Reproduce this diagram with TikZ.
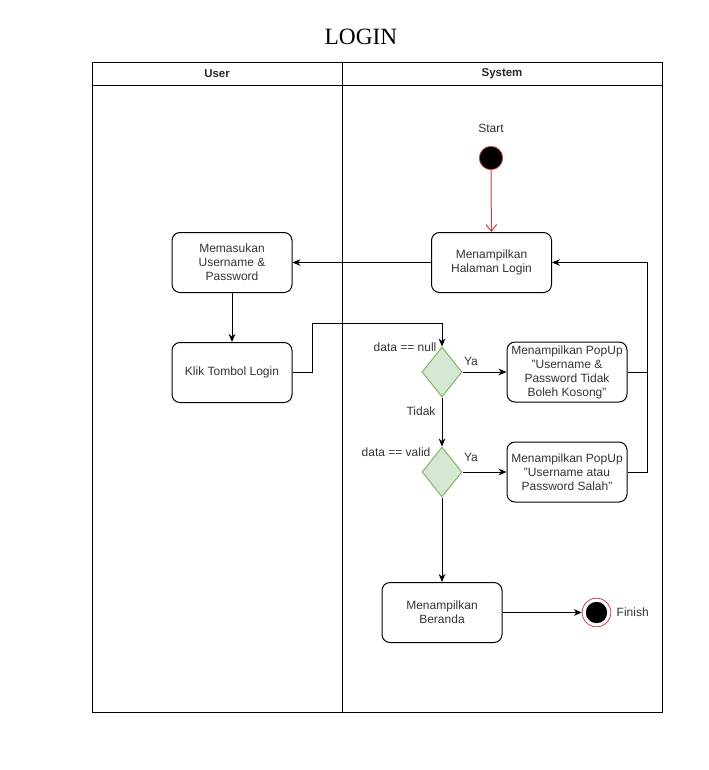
\documentclass[tikz,border=0pt]{standalone}
\usepackage{fontspec}
\setmainfont{Liberation Sans}
\newfontfamily\titlefont{Liberation Serif}
\usetikzlibrary{arrows.meta,shapes.geometric}
\definecolor{decfill}{HTML}{D5E8D4}
\definecolor{decline}{HTML}{82B366}
\definecolor{startred}{HTML}{CC4444}
\begin{document}
\begin{tikzpicture}[x=0.75pt,y=-0.75pt,
  txt/.style={font=\fontsize{9}{10.5}\selectfont, text=black!80},
  act/.style={txt, draw, line width=0.75pt, rounded corners=6pt, minimum width=90pt, minimum height=45pt, inner sep=0pt, align=center},
  dec/.style={diamond, draw=decline, fill=decfill, line width=0.75pt, minimum width=30pt, minimum height=37.5pt, inner sep=0pt},
  arr/.style={draw, line width=0.75pt, -{Stealth[length=6pt,width=5pt]}},
  redarr/.style={draw=startred, line width=0.75pt, -{Straight Barb[length=5pt,width=8pt]}},
  lane/.style={draw, line width=0.75pt},
  hdr/.style={font=\bfseries\fontsize{8.6}{10}\selectfont, text=black!85},
  lbl/.style={txt, inner sep=1pt}
]
\useasboundingbox (0,0) rectangle (709,770);
% title
\node[font=\titlefont\fontsize{17.5}{20}\selectfont] (title) at (361,37) {LOGIN};
% pool
\draw[lane] (92,63) rectangle (662,712);
\draw[lane] (92,86) -- (662,86);
\draw[lane] (342,63) -- (342,712);
\node[hdr] (huser) at (217,74) {User};
\node[hdr] (hsys) at (502,74) {System};
% nodes
\node[circle, fill=black, draw=startred, line width=0.6pt, minimum size=17.5pt, inner sep=0pt] (start) at (491,158) {};
\node[txt] (startlbl) at (491,128) {Start};
\node[act] (login) at (491.5,262.5) {Menampilkan\\Halaman Login};
\node[act] (input) at (232,262.5) {Memasukan\\Username \&\\Password};
\node[act] (klik) at (232,372.5) {Klik Tombol Login};
\node[dec] (d1) at (442,372) {};
\node[dec] (d2) at (442,472) {};
\node[act] (p1) at (567,372) {Menampilkan PopUp\\"Username \&\\Password Tidak\\Boleh Kosong"};
\node[act] (p2) at (567,472) {Menampilkan PopUp\\"Username atau\\Password Salah"};
\node[act] (home) at (442,612.5) {Menampilkan\\Beranda};
\node[circle, fill=white, draw=startred, line width=0.6pt, minimum size=21.5pt, inner sep=0pt] (endo) at (596.5,612.5) {};
\node[circle, fill=black, minimum size=16pt, inner sep=0pt] (endi) at (596.5,612.5) {};
\node[txt, anchor=west] (finlbl) at (612,612) {Finish};
% labels
\node[lbl, anchor=east] (l1) at (438,347) {data == null};
\node[lbl, anchor=east] (l2) at (432,452) {data == valid};
\node[lbl] (ya1) at (471,361) {Ya};
\node[lbl] (ya2) at (471,457) {Ya};
\node[lbl] (tidak) at (421,411) {Tidak};
% coordinates
\coordinate (k1) at (312,323);
\coordinate (r1) at (647,300);
% edges
\draw[redarr] (start) -- (login);
\draw[arr] (login.west) -- (input.east);
\draw[arr] (input) -- (klik);
\draw[arr] (klik.east) -| (k1) -| (d1.north);
\draw[arr] (d1.east) -- (p1.west);
\draw[arr] (d1.south) -- (d2.north);
\draw[arr] (d2.east) -- (p2.west);
\draw[arr] (d2.south) -- (home.north);
\draw[arr] (home.east) -- (endo.west);
\draw[line width=0.75pt] (p1.east) -- (p1.east -| r1);
\draw[arr] (p2.east) -| (r1) |- (login.east);
\end{tikzpicture}
\end{document}
